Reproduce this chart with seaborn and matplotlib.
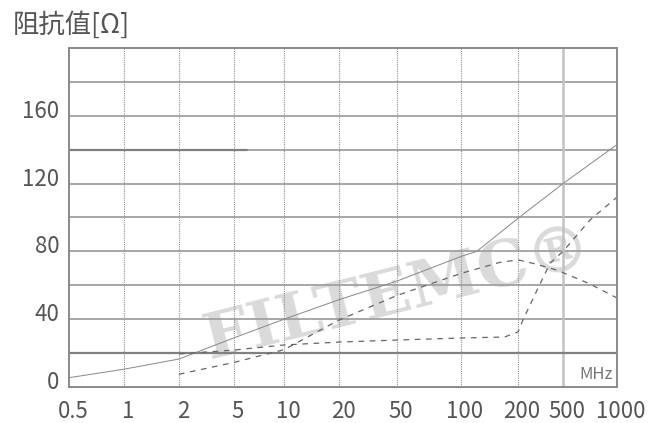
import numpy as np
import matplotlib
matplotlib.use("Agg")
import matplotlib.pyplot as plt
import matplotlib.transforms as mtransforms
import seaborn as sns

# frequency axis ticks (MHz) and labels
freq_ticks = [0.5, 1, 2, 5, 10, 20, 50, 100, 200, 500, 1000]
freq_labels = ["0.5", "1", "2", "5", "10", "20", "50", "100", "200", "500", "1000"]
# horizontal position of each tick on the chart (the chart's own uneven log grid)
grid_pos = [0, 55, 110, 165, 215, 270, 328, 392, 449, 494, 548]

y_ticks = [0, 40, 80, 120, 160]

# |Z| curve (solid)
z_freq = [0.5, 1, 2, 5, 10, 20, 50, 100, 121, 200, 500, 1000]
z_vals = [5.5, 10.5, 16.5, 29, 40, 51.5, 62.5, 77, 80, 99.5, 120, 143]

# R curve (dashed, peaks near 200 MHz)
r_freq = [2, 5, 10, 20, 50, 100, 160, 200, 270, 440, 700, 1000]
r_vals = [7.5, 14.5, 22, 39.5, 54, 67, 73.5, 75, 73, 69, 61, 52.5]

# X curve (dashed, flat then sharp rise)
x_freq = [2, 5, 10, 20, 50, 100, 170, 200, 221, 294, 384, 500, 707, 1000]
x_vals = [19.5, 21.8, 24.8, 26.5, 27.7, 28.9, 29.5, 32.5, 39.5, 57, 73, 80, 98.5, 112]

# reference levels
ref_hi_freq = [0.5, 6]
ref_hi_vals = [140, 140]
ref_lo_freq = [0.5, 1000]
ref_lo_vals = [20, 20]

log_t = np.log10(freq_ticks)


def fwd(f):
    return np.interp(np.log10(np.clip(f, 1e-6, None)), log_t, grid_pos)


def inv(p):
    return 10 ** np.interp(p, grid_pos, log_t)


sns.set_style("white")
plt.rcParams["font.family"] = ["Noto Sans CJK JP", "DejaVu Sans"]

fig = plt.figure(figsize=(6.62, 4.23), dpi=100)
ax = fig.add_axes([69 / 662, 1 - 387 / 423, 548 / 662, 339 / 423])
ax.set_xscale("function", functions=(fwd, inv))
ax.set_xlim(0.5, 1000)
ax.set_ylim(0, 200)

# grid
for yv in range(20, 200, 20):
    ax.axhline(yv, color="#a0a0a0", lw=1.3, zorder=1)
for f in freq_ticks[1:-1]:
    if f == 500:
        ax.axvline(f, color="#c2c2c2", lw=1.8, zorder=1)
    else:
        ax.axvline(f, color="#909090", lw=0.8, ls=(0, (1, 1)), zorder=1)

# watermark
ax.text(0.6, 0.275, "FILTEMC®", transform=ax.transAxes, rotation=14,
        ha="center", va="center", fontsize=46, fontweight="bold",
        family="DejaVu Serif", color="#dadada", zorder=0.5)

sns.lineplot(x=ref_hi_freq, y=ref_hi_vals, ax=ax, color="#808080", lw=1.6)
sns.lineplot(x=ref_lo_freq, y=ref_lo_vals, ax=ax, color="#808080", lw=1.6)
sns.lineplot(x=z_freq, y=z_vals, ax=ax, color="#888888", lw=0.7)
sns.lineplot(x=r_freq, y=r_vals, ax=ax, color="#666666", lw=0.9, dashes=False,
             linestyle=(0, (4.5, 4.5)))
sns.lineplot(x=x_freq, y=x_vals, ax=ax, color="#666666", lw=0.9, dashes=False,
             linestyle=(0, (4.5, 4.5)))

for s in ax.spines.values():
    s.set_color("#8a8a8a")
    s.set_linewidth(1.4)

ax.set_xticks(freq_ticks)
ax.set_xticklabels(freq_labels)
ax.minorticks_off()
ax.set_yticks(y_ticks)
ax.set_yticklabels([str(v) for v in y_ticks])
ax.tick_params(axis="both", length=0, labelsize=16, labelcolor="#555555")
ax.tick_params(axis="x", pad=9)
ax.tick_params(axis="y", pad=7)

shift_y = mtransforms.ScaledTranslation(0, 7 / 100, fig.dpi_scale_trans)
for lab in ax.get_yticklabels():
    lab.set_transform(lab.get_transform() + shift_y)
shift_x = mtransforms.ScaledTranslation(4 / 100, 0, fig.dpi_scale_trans)
for lab in ax.get_xticklabels():
    lab.set_transform(lab.get_transform() + shift_x)

ax.set_xlabel("")
ax.set_ylabel("")
ax.text(0.993, 0.012, "MHz", transform=ax.transAxes, ha="right", va="bottom",
        fontsize=12, color="#777777")

fig.text(13 / 662, 1 - 25 / 423, "阻抗值[Ω]", ha="left", va="center",
         fontsize=19, color="#555555")

fig.savefig("out.png", dpi=100)
